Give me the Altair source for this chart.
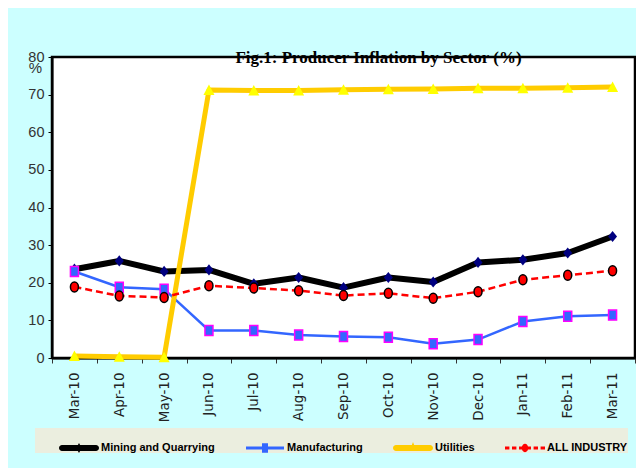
import altair as alt
import pandas as pd

months = ["Mar-10", "Apr-10", "May-10", "Jun-10", "Jul-10", "Aug-10", "Sep-10",
          "Oct-10", "Nov-10", "Dec-10", "Jan-11", "Feb-11", "Mar-11"]
series_names = ["Mining and Quarrying", "Manufacturing", "Utilities", "ALL INDUSTRY"]

mining = [23.6, 25.8, 23.0, 23.4, 19.7, 21.4, 18.7, 21.4, 20.2, 25.4, 26.1, 27.9, 32.3]
manufacturing = [23.0, 18.8, 18.3, 7.3, 7.3, 6.1, 5.7, 5.5, 3.8, 4.9, 9.7, 11.1, 11.4]
utilities = [0.5, 0.3, 0.2, 71.2, 71.1, 71.1, 71.3, 71.4, 71.5, 71.7, 71.7, 71.8, 72.0]
all_industry = [18.9, 16.5, 16.1, 19.2, 18.6, 17.9, 16.6, 17.2, 15.9, 17.6, 20.8, 22.0, 23.2]

y_ticks = [0, 10, 20, 30, 40, 50, 60, 70, 80]

values = [mining, manufacturing, utilities, all_industry]
rows = []
for name, vals in zip(series_names, values):
    for m, v in zip(months, vals):
        rows.append({"month": m, "series": name, "value": v})
df = pd.DataFrame(rows)

label_font = "Liberation Sans"

x_enc = alt.X(
    "month:N", sort=months,
    scale=alt.Scale(type="band", domain=months, paddingInner=0, paddingOuter=0),
    axis=alt.Axis(title=None, labelAngle=270, tickBand="extent", tickSize=5,
                  labelPadding=9, labelFont="DejaVu Sans", labelFontSize=13.5,
                  labelColor="#222222", domainColor="black", domainWidth=2,
                  tickColor="#333333", grid=False),
)
y_enc = alt.Y(
    "value:Q",
    scale=alt.Scale(domain=[0, 80], nice=False, zero=True),
    axis=alt.Axis(values=y_ticks, title="%", titleAngle=0, titleX=-17, titleY=10,
                  titleAlign="center", titleBaseline="middle", titleFont=label_font,
                  titleFontSize=15, titleFontWeight="normal", titleColor="#333333",
                  labelFont=label_font, labelFontSize=14.5, labelColor="#333333",
                  tickSize=4, labelPadding=4, tickColor="black",
                  domainColor="black", domainWidth=2, grid=False),
)

base = alt.Chart(df).encode(x=x_enc, y=y_enc)

diamond = "M0,-1L0.8,0L0,1L-0.8,0Z"
square = "M-0.8,-1L0.8,-1L0.8,1L-0.8,1Z"
triangle = "M0,-1L1,0.9L-1,0.9Z"
ellipse = "M-0.8,0A0.8,1 0 1 1 0.8,0A0.8,1 0 1 1 -0.8,0Z"

layers = []
# Mining and Quarrying
d = base.transform_filter(alt.datum.series == series_names[0])
layers.append(d.mark_line(color="black", strokeWidth=6, strokeJoin="round"))
layers.append(d.mark_point(shape=diamond, size=125, filled=True, fill="#000080",
                           strokeWidth=0, opacity=1))
# Manufacturing
d = base.transform_filter(alt.datum.series == series_names[1])
layers.append(d.mark_line(color="#3366FF", strokeWidth=2.5))
layers.append(d.mark_point(shape=square, size=100, filled=True, fill="#3366FF",
                           stroke="#FF00FF", strokeWidth=1.5, opacity=1))
# Utilities
d = base.transform_filter(alt.datum.series == series_names[2])
layers.append(d.mark_line(color="#FFCC00", strokeWidth=5, strokeJoin="round"))
layers.append(d.mark_point(shape=triangle, size=121, filled=True, fill="#FFFF00",
                           strokeWidth=0, opacity=1))
# ALL INDUSTRY
d = base.transform_filter(alt.datum.series == series_names[3])
layers.append(d.mark_line(color="#FF0000", strokeWidth=2.5, strokeDash=[7, 4]))
layers.append(d.mark_point(shape=ellipse, size=100, filled=True, fill="#FF0000",
                           stroke="black", strokeWidth=1.5, opacity=1))

# legend symbols (line + marker drawn as one path, unit = 20px)
leg_mining = ("M-0.85,-0.15L0.85,-0.15A0.15,0.15 0 0 1 0.85,0.15L-0.85,0.15"
              "A0.15,0.15 0 0 1 -0.85,-0.15Z M0,-0.25L0.14,0L0,0.25L-0.14,0Z")
leg_manuf = ("M-0.95,-0.075L0.95,-0.075L0.95,0.075L-0.95,0.075Z "
             "M-0.15,-0.24L0.15,-0.24L0.15,0.24L-0.15,0.24Z")
leg_util = ("M-0.85,-0.15L0.85,-0.15A0.15,0.15 0 0 1 0.85,0.15L-0.85,0.15"
            "A0.15,0.15 0 0 1 -0.85,-0.15Z M0,-0.3L0.17,0.15L-0.17,0.15Z")
leg_all = ("M-1,-0.075L-0.78,-0.075L-0.78,0.075L-1,0.075Z "
           "M-0.65,-0.075L-0.43,-0.075L-0.43,0.075L-0.65,0.075Z "
           "M-0.3,-0.075L-0.1,-0.075L-0.1,0.075L-0.3,0.075Z "
           "M0.1,-0.075L0.3,-0.075L0.3,0.075L0.1,0.075Z "
           "M0.43,-0.075L0.65,-0.075L0.65,0.075L0.43,0.075Z "
           "M0.78,-0.075L1,-0.075L1,0.075L0.78,0.075Z "
           "M-0.16,0A0.16,0.21 0 1 1 0.16,0A0.16,0.21 0 1 1 -0.16,0Z")
legend_colors = ["black", "#3366FF", "#FFCC00", "#FF0000"]
legend_shapes = [leg_mining, leg_manuf, leg_util, leg_all]

leg = alt.Legend(title=None, orient="none", legendX=-17, legendY=371,
                 direction="horizontal", columns=4, padding=0,
                 fillColor="#EBEEDF", symbolSize=1600, symbolStrokeWidth=0,
                 symbolOffset=24, labelOffset=2, columnPadding=6,
                 labelFont=label_font, labelFontSize=11, labelFontWeight="bold",
                 labelColor="black", labelLimit=400)

legend_layer = base.transform_filter("false").mark_point(
    filled=True, size=1600, strokeWidth=0, opacity=1
).encode(
    color=alt.Color("series:N", scale=alt.Scale(domain=series_names, range=legend_colors),
                    legend=leg),
    shape=alt.Shape("series:N", scale=alt.Scale(domain=series_names, range=legend_shapes),
                    legend=leg),
)
layers.append(legend_layer)

chart = alt.layer(*layers).properties(
    width=583, height=301,
    autosize=alt.AutoSizeParams(type="none"),
    padding={"left": 44, "top": 49, "right": 1, "bottom": 110},
    background="#CCFFFF",
    title=alt.TitleParams(text="Fig.1: Producer Inflation by Sector (%)",
                          font="Liberation Serif", fontSize=17, fontWeight="bold",
                          color="black", anchor="middle", frame="group", dx=35,
                          dy=25, offset=-6, baseline="alphabetic"),
).configure_view(stroke="black", strokeWidth=2.5, fill="white")

chart.save("out.html", embed_options={"renderer": "svg", "actions": False})
